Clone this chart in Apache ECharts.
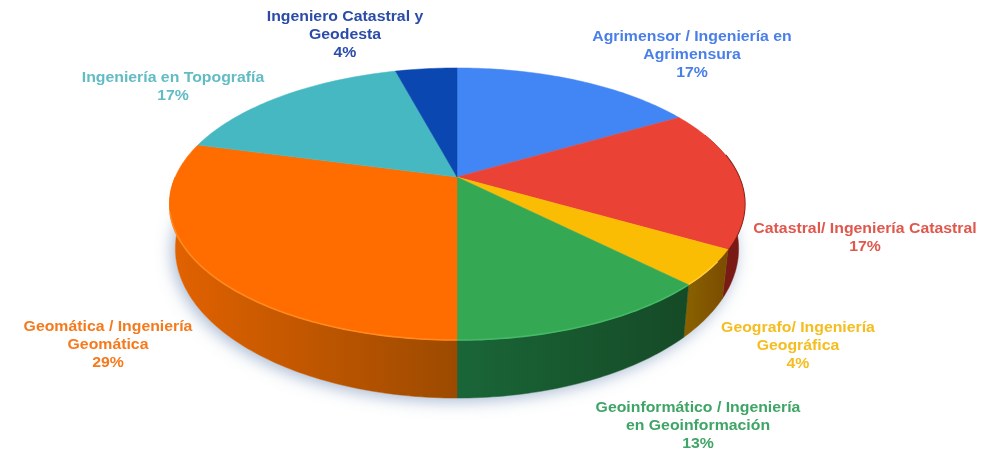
<!DOCTYPE html>
<html>
<head>
<meta charset="utf-8">
<script src="https://cdn.jsdelivr.net/npm/echarts@6/dist/echarts.min.js"></script>
<style>
html,body{margin:0;padding:0;background:#fff;}
#c{width:1003px;height:452px;filter:blur(0.7px);}
</style>
</head>
<body>
<div id="c"></div>
<script>
// Data
const categories = [
  'Agrimensor / Ingeniería en\nAgrimensura',
  'Catastral/ Ingeniería Catastral',
  'Geografo/ Ingeniería\nGeográfica',
  'Geoinformático / Ingeniería\nen Geoinformación',
  'Geomática / Ingeniería\nGeomática',
  'Ingeniería en Topografía',
  'Ingeniero Catastral y\nGeodesta'
];
const shares = [16.7, 16.7, 4.2, 12.5, 29.2, 16.7, 4.2];

// Styles
const topColors = ['#4285f4', '#ea4335', '#fbbc04', '#34a853', '#ff6d01', '#46b8c2', '#0b47b0'];
const rimColors = ['#4285f4', '#f0584a', '#ffcc33', '#45b966', '#ff8a20', '#46bdc6', '#0b47b3'];
const wallLeft  = ['#2a5ab0', '#7a1a14', '#8a6200', '#1a6638', '#e26200', '#2a7f86', '#082f78'];
const wallRight = ['#2a5ab0', '#7a1a14', '#7a4c00', '#154a26', '#9c4a00', '#2a7f86', '#082f78'];
const labelColors = ['#4a7fe8', '#e0574c', '#f5bd20', '#3fa566', '#f57a1e', '#62bcc4', '#2a4ca8'];
const labelCentres = [[692,55],[865,238],[798,346],[698,426],[108,345],[173,87],[345,35]];

// Layout of the tilted disc
const CX = 457, APEX = 177, AX = 281.8, BY = 130.7, K = 0.1985;
const BOTTOM = {ax: 276, by: 143.5, y0: 219};
const LABEL_STRETCH = 1.13;

const total = shares.reduce((a, b) => a + b, 0);
const starts = [];
shares.reduce((acc, v, i) => { starts[i] = acc; return acc + v; }, 0);

function project(deg, f) {
  const t = deg * Math.PI / 180, x = Math.sin(t), y = Math.cos(t), w = 1 + K * y;
  return [CX + f.ax * x / w, f.y0 - f.by * y / w];
}
const TOP = {ax: AX, by: BY, y0: APEX};
function arc(a, b, f) {
  const pts = [], n = Math.max(2, Math.ceil(Math.abs(b - a)));
  for (let i = 0; i <= n; i++) pts.push(project(a + (b - a) * i / n, f));
  return pts;
}
function range(i) {
  return [starts[i] / total * 360, (starts[i] + shares[i]) / total * 360];
}
const dataset = shares.map((v, i) => ({name: categories[i], value: v}));

const shadowSeries = {
  type: 'custom', coordinateSystem: 'none', silent: true, z: 1, animation: false,
  data: [total],
  renderItem() {
    return {type: 'polygon', shape: {points: arc(0, 360, BOTTOM)},
      style: {fill: '#fff', shadowBlur: 16, shadowColor: 'rgba(80,115,165,0.5)', shadowOffsetX: -3, shadowOffsetY: 3}};
  }
};
const wallSeries = {
  type: 'custom', coordinateSystem: 'none', silent: true, z: 2, animation: false,
  data: dataset,
  renderItem(params) {
    const i = params.dataIndex;
    let [a, b] = range(i);
    a = Math.max(a, 70); b = Math.min(b, 270);
    if (b <= a) return {type: 'group', children: []};
    const upper = arc(a, b, TOP), lower = arc(b, a, BOTTOM), pts = upper.concat(lower);
    const xs = pts.map(p => p[0]);
    const fill = new echarts.graphic.LinearGradient(Math.min(...xs), 0, Math.max(...xs), 0,
      [{offset: 0, color: wallLeft[i]}, {offset: 1, color: wallRight[i]}], true);
    const children = [{type: 'polygon', shape: {points: pts}, style: {fill, stroke: fill, lineWidth: 0.5}}];
    const ea = Math.max(a, 80), eb = Math.min(b, 135);
    if (eb > ea) children.push({type: 'polyline', shape: {points: arc(ea, eb, TOP)},
      style: {fill: 'none', stroke: wallRight[i], lineWidth: 2.2}});
    return {type: 'group', children};
  }
};
const topSeries = {
  type: 'custom', coordinateSystem: 'none', silent: true, z: 3, animation: false,
  data: dataset,
  renderItem(params) {
    const i = params.dataIndex, [a, b] = range(i);
    const children = [{type: 'polygon',
      shape: {points: [[CX, APEX]].concat(arc(a, b, TOP))},
      style: {fill: topColors[i], stroke: topColors[i], lineWidth: 0.5}}];
    const ra = Math.max(a, 125), rb = Math.min(b, 255);
    if (rb > ra) children.push({type: 'polyline', shape: {points: arc(ra, rb, TOP)},
      style: {fill: 'none', stroke: rimColors[i], lineWidth: 1.6}, z2: 2});
    return {type: 'group', children};
  }
};
const labelSeries = {
  type: 'custom', coordinateSystem: 'none', silent: true, z: 4, animation: false,
  data: shares.map((v, i) => [i, v]),
  encode: {value: 1},
  renderItem(params, api) {
    const i = params.dataIndex;
    return {type: 'text', x: labelCentres[i][0], y: labelCentres[i][1], scaleX: LABEL_STRETCH,
      style: {
        text: categories[i] + '\n' + Math.round(api.value(1)) + '%',
        fill: labelColors[i], align: 'center', verticalAlign: 'middle',
        font: 'bold 14px "Liberation Sans", Arial, sans-serif', lineHeight: 18
      }};
  }
};

const chart = echarts.init(document.getElementById('c'), null, {renderer: 'canvas'});
chart.setOption({
  backgroundColor: '#ffffff',
  animation: false,
  series: [shadowSeries, wallSeries, topSeries, labelSeries]
});
</script>
</body>
</html>
